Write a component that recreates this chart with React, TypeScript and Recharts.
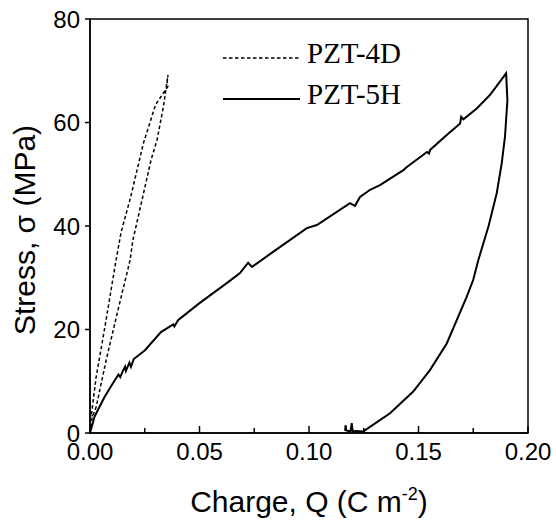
import React from 'react';
import { LineChart, Line, XAxis, YAxis, ReferenceArea, Legend, Label } from 'recharts';

// PZT-4D loop: loading branch then unloading branch
const pzt4dQ = [0, 0.0010, 0.0028, 0.0074, 0.0128, 0.0183, 0.0196, 0.0240, 0.0279, 0.0306, 0.0335, 0.0356, 0.0352, 0.0356, 0.0300, 0.0244, 0.0185, 0.0142, 0.0119, 0.0068, 0.0028, 0.0009, 0.0005, 0.0012];
const pzt4dStress = [0, 3.0, 5.0, 14.1, 23.8, 33.4, 37.3, 45.5, 52.8, 56.6, 63.0, 69.2, 67.8, 67.0, 63.5, 56.0, 45.5, 38.8, 33.4, 20.5, 10.8, 4.4, 3.2, 3.4];

// PZT-5H loop
const pzt5hQ = [
  0, 0.0008, 0.0021, 0.0067, 0.0113, 0.0130, 0.0138, 0.0150, 0.0160, 0.0164, 0.0180, 0.0187, 0.0200,
  0.0251, 0.0324, 0.0380, 0.0385, 0.0402, 0.0500, 0.0626, 0.0685, 0.0722, 0.0740, 0.0836, 0.0990,
  0.1036, 0.1187, 0.1210, 0.1233, 0.1279, 0.1324, 0.1431, 0.1447, 0.1539, 0.1548, 0.1553, 0.1629,
  0.1690, 0.1695, 0.1705, 0.1766, 0.1826, 0.1900,
  0.1906, 0.1895, 0.1880, 0.1857, 0.1820, 0.1773, 0.1750, 0.1720, 0.1629, 0.1553, 0.1476, 0.1370,
  0.1248, 0.1215, 0.1200, 0.1195, 0.1190, 0.1180, 0.1170, 0.1167, 0.1165, 0.1164,
];
const pzt5hStress = [
  0, 1.2, 3.2, 7.0, 10.2, 11.3, 10.8, 12.0, 12.8, 12.0, 13.6, 12.8, 14.3,
  16.0, 19.5, 21.0, 20.6, 21.8, 25.1, 29.0, 30.9, 32.9, 32.1, 35.0, 39.6,
  40.2, 44.4, 43.9, 45.6, 47.0, 47.9, 50.8, 51.4, 54.3, 54.0, 54.7, 57.6,
  59.8, 61.1, 60.6, 62.7, 65.3, 69.5,
  64.3, 57.3, 52.1, 46.3, 40.0, 33.4, 29.6, 26.3, 17.3, 12.2, 8.0, 3.8,
  0.3, 0.4, 0.3, 1.9, 0.4, 0.4, 0.5, 1.5, 0.5, 0.4,
];

const xTicks = [0, 0.025, 0.05, 0.075, 0.1, 0.125, 0.15, 0.175, 0.2];
const xMajorTicks = [0, 0.05, 0.1, 0.15, 0.2];
const yTicks = [0, 20, 40, 60, 80];

const seriesNames = ['PZT-4D', 'PZT-5H'];

const data4d = pzt4dQ.map((q, i) => ({ q, s: pzt4dStress[i] }));
const data5h = pzt5hQ.map((q, i) => ({ q, s: pzt5hStress[i] }));

const SANS = '"Liberation Sans", Arial, Helvetica, sans-serif';
const SERIF = '"Liberation Serif", "Times New Roman", serif';

const XTick = (props: any) => {
  const { x, y, payload } = props;
  const v = payload.value;
  const major = xMajorTicks.some((m) => Math.abs(m - v) < 1e-9);
  return (
    <g>
      <line x1={x} y1={y} x2={x} y2={y - (major ? 7 : 5)} stroke="#000" strokeWidth={1.5} />
      {major && (
        <text x={x} y={y + 10} dy="0.71em" textAnchor="middle" fontFamily={SANS} fontSize={24} fill="#000">
          {v.toFixed(2)}
        </text>
      )}
    </g>
  );
};

const renderLegend = (props: any) => {
  const payload = props.payload || [];
  return (
    <svg width={240} height={90} style={{ display: 'block' }}>
      {payload.map((entry: any, i: number) => {
        const ly = 26 + i * 41;
        return (
          <g key={i}>
            <line
              x1={8}
              y1={ly}
              x2={85}
              y2={ly}
              stroke="#000"
              strokeWidth={i === 0 ? 1.5 : 2}
              strokeDasharray={i === 0 ? '3.5 2.5' : undefined}
            />
            <text x={92} y={ly + 5} fontFamily={SERIF} fontSize={29} fill="#000">
              {entry.value}
            </text>
          </g>
        );
      })}
    </svg>
  );
};

const XTitle = (props: any) => {
  const vb = props.viewBox;
  return (
    <text x={vb.x + vb.width / 2} y={vb.y + 79} textAnchor="middle" fontFamily={SANS} fontSize={30} fill="#000">
      Charge, Q (C m
      <tspan dy={-12} fontSize={18}>-2</tspan>
      <tspan dy={12}>)</tspan>
    </text>
  );
};

const YTitle = (props: any) => {
  const vb = props.viewBox;
  const cx = vb.x + 35;
  const cy = vb.y + vb.height / 2 + 4;
  return (
    <text
      x={cx}
      y={cy}
      transform={`rotate(-90, ${cx}, ${cy})`}
      textAnchor="middle"
      fontFamily={SANS}
      fontSize={30}
      fill="#000"
    >
      Stress, σ (MPa)
    </text>
  );
};

export default function App() {
  return (
    <div style={{ position: 'absolute', left: 0, top: 0, background: '#fff' }}>
      <LineChart width={556} height={520} margin={{ top: 19, right: 28, bottom: 0, left: 0 }}>
        <XAxis
          dataKey="q"
          type="number"
          domain={[0, 0.2]}
          ticks={xTicks}
          allowDataOverflow
          height={87}
          tickLine={false}
          tickSize={0}
          tickMargin={0}
          tick={<XTick />}
          axisLine={{ stroke: '#000', strokeWidth: 1.5 }}
          interval={0}
        >
          <Label content={<XTitle />} />
        </XAxis>
        <YAxis
          dataKey="s"
          type="number"
          domain={[0, 80]}
          ticks={yTicks}
          allowDataOverflow
          width={90}
          tickSize={5}
          tickMargin={5}
          tickLine={{ stroke: '#000', strokeWidth: 1.5 }}
          axisLine={{ stroke: '#000', strokeWidth: 1.5 }}
          tick={{ fontFamily: SANS, fontSize: 24, fill: '#000' }}
          interval={0}
        >
          <Label content={<YTitle />} />
        </YAxis>
        <ReferenceArea x1={0} x2={0.2} y1={0} y2={80} fill="none" stroke="#000" strokeWidth={1.5} />
        <Line
          data={data4d}
          dataKey="s"
          name={seriesNames[0]}
          stroke="#000"
          strokeWidth={1.5}
          strokeDasharray="3.5 2.5"
          dot={false}
          activeDot={false}
          type="linear"
          isAnimationActive={false}
        />
        <Line
          data={data5h}
          dataKey="s"
          name={seriesNames[1]}
          stroke="#000"
          strokeWidth={2}
          dot={false}
          activeDot={false}
          type="linear"
          isAnimationActive={false}
        />
        <Legend
          layout="horizontal"
          align="center"
          verticalAlign="middle"
          content={renderLegend}
          wrapperStyle={{ left: 215, top: 32, width: 240, height: 90 }}
        />
      </LineChart>
    </div>
  );
}
